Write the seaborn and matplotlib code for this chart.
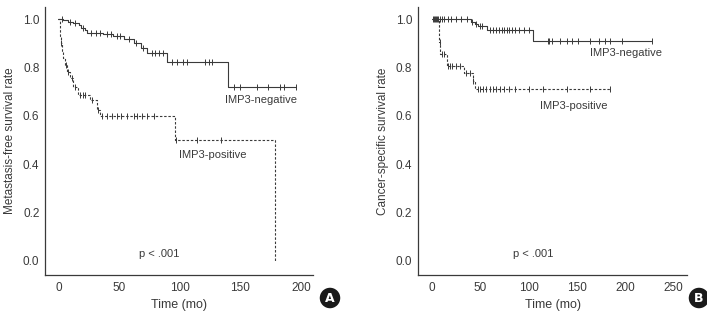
import numpy as np
import pandas as pd
import seaborn as sns
import matplotlib.pyplot as plt

# Panel A: metastasis-free survival
a_neg_t = [0, 4, 8, 12, 17, 19, 22, 24, 37, 45, 54, 62, 68, 73, 90, 140, 196]
a_neg_s = [1.0, 0.995, 0.99, 0.985, 0.975, 0.965, 0.955, 0.945, 0.938, 0.93, 0.917, 0.903, 0.883, 0.859, 0.825, 0.72, 0.72]
a_neg_cens = [3, 10, 14, 20, 27, 31, 34, 40, 43, 48, 51, 58, 64, 70, 77, 80, 83, 86,
              94, 98, 103, 106, 121, 124, 127, 145, 150, 164, 173, 183, 186, 196]
a_pos_t = [0, 1, 2, 3, 4, 5.5, 7, 10, 12, 16.5, 26, 32, 34, 96.5, 179]
a_pos_s = [1.0, 0.93, 0.90, 0.87, 0.84, 0.81, 0.78, 0.756, 0.72, 0.687, 0.666, 0.625, 0.598, 0.5, 0.0]
a_pos_cens = [2.5, 6, 8, 11, 14, 18, 20, 22, 28, 33, 36, 40, 44, 48, 52, 57, 62, 65,
              69, 73, 79, 97, 114, 134]

# Panel B: cancer-specific survival
b_neg_t = [0, 40, 45, 48, 57, 104.5, 227.5]
b_neg_s = [1.0, 0.99, 0.98, 0.974, 0.956, 0.908, 0.908]
b_neg_cens = [1, 3, 5, 8, 10, 13, 17, 20, 25, 30, 36, 42, 46, 50, 52, 60, 63, 66, 69,
              72, 75, 78, 80, 83, 86, 90, 95, 100, 120, 121.5, 124, 132.6, 139.6,
              144.8, 151.6, 163.7, 172.4, 179.3, 184.5, 196.6, 227.7]
b_pos_t = [0, 7.6, 8.6, 15.5, 32.8, 42.4, 45, 184.5]
b_pos_s = [1.0, 0.905, 0.857, 0.808, 0.778, 0.746, 0.712, 0.712]
b_pos_cens = [2, 4, 6, 8, 10, 13, 17, 19, 21, 25, 29, 35, 39, 43, 48, 50, 53, 56, 60,
              63, 66, 70, 75, 80, 86, 100, 115, 140, 163, 184.5]

ink = '#3a3a3a'
sns.set_style('white')
plt.rcParams['font.family'] = ['Liberation Sans Narrow', 'Liberation Sans', 'DejaVu Sans']
plt.rcParams['text.color'] = ink
plt.rcParams['axes.labelcolor'] = ink
plt.rcParams['xtick.color'] = ink
plt.rcParams['ytick.color'] = ink

fig = plt.figure(figsize=(7.07, 3.11), dpi=100)
axA = fig.add_axes([0.0637, 0.116, 0.379, 0.861])
axB = fig.add_axes([0.591, 0.116, 0.381, 0.861])


def level_at(t, s, c):
    idx = np.searchsorted(t, c, side='right') - 1
    return np.asarray(s)[idx]


def draw_curve(ax, t, s, cens, dashed):
    df = pd.DataFrame({'time': t, 'surv': s})
    ls = (0, (2.2, 1.6)) if dashed else '-'
    sns.lineplot(data=df, x='time', y='surv', ax=ax, estimator=None, sort=False,
                 drawstyle='steps-post', color=ink, lw=0.8, linestyle=ls)
    cdf = pd.DataFrame({'time': cens, 'surv': level_at(t, s, cens)})
    sns.scatterplot(data=cdf, x='time', y='surv', ax=ax, marker='|', s=16,
                    color=ink, linewidth=0.7)


draw_curve(axA, a_neg_t, a_neg_s, a_neg_cens, False)
draw_curve(axA, a_pos_t, a_pos_s, a_pos_cens, True)
draw_curve(axB, b_neg_t, b_neg_s, b_neg_cens, False)
draw_curve(axB, b_pos_t, b_pos_s, b_pos_cens, True)

for ax, xlim, xt, ylab in [(axA, (-11, 210), [0, 50, 100, 150, 200], 'Metastasis-free survival rate'),
                           (axB, (-14.5, 264), [0, 50, 100, 150, 200, 250], 'Cancer-specific survival rate')]:
    ax.set_xlim(*xlim)
    ax.set_ylim(-0.058, 1.05)
    ax.set_xticks(xt)
    ax.set_yticks([0, 0.2, 0.4, 0.6, 0.8, 1.0])
    ax.set_yticklabels(['0.0', '0.2', '0.4', '0.6', '0.8', '1.0'])
    ax.tick_params(direction='in', length=4, width=0.8, labelsize=8.5)
    ax.tick_params(axis='y', pad=4)
    ax.tick_params(axis='x', pad=5)
    ax.set_xlabel('Time (mo)', fontsize=9, labelpad=4)
    ax.set_ylabel(ylab, fontsize=8.5, labelpad=5)
    for side in ['top', 'right']:
        ax.spines[side].set_visible(False)
    for side in ['left', 'bottom']:
        ax.spines[side].set_color(ink)
        ax.spines[side].set_linewidth(0.9)

fs_in = 8
axA.text(167, 0.666, 'IMP3-negative', ha='center', va='center', fontsize=fs_in)
axA.text(127, 0.439, 'IMP3-positive', ha='center', va='center', fontsize=fs_in)
axA.text(83.5, 0.03, 'p < .001', ha='center', va='center', fontsize=fs_in)
axB.text(201, 0.859, 'IMP3-negative', ha='center', va='center', fontsize=fs_in)
axB.text(147, 0.643, 'IMP3-positive', ha='center', va='center', fontsize=fs_in)
axB.text(105, 0.03, 'p < .001', ha='center', va='center', fontsize=fs_in)

for x, lab in [(330 / 707, 'A'), (699 / 707, 'B')]:
    fig.text(x, 1 - 298 / 311, lab, ha='center', va='center', color='white',
             fontsize=9, fontweight='bold', family='DejaVu Sans',
             bbox=dict(boxstyle='circle,pad=0.3', fc='#1a1a1a', ec='none'))

fig.savefig('out.png', dpi=100)
